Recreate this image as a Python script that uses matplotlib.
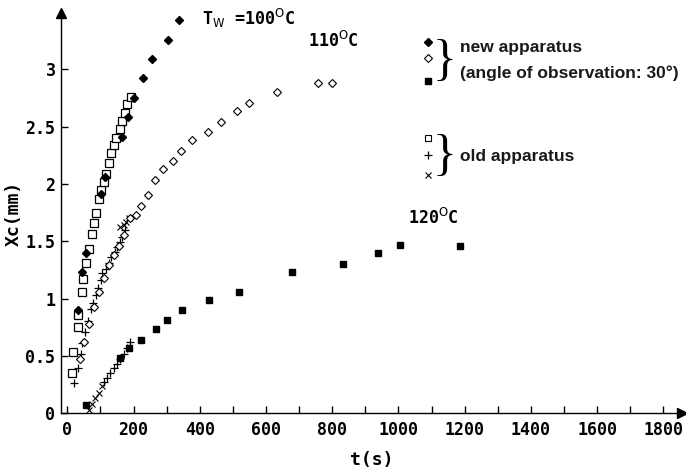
import numpy as np
import matplotlib
matplotlib.use("Agg")
import matplotlib.pyplot as plt

# ---- data ----
# new apparatus, T_W = 100 C (filled diamonds)
t_new100 = [33, 45, 55, 101, 113, 164, 184, 202, 228, 256, 304, 338]
x_new100 = [0.90, 1.23, 1.40, 1.91, 2.06, 2.41, 2.58, 2.75, 2.92, 3.09, 3.26, 3.43]

# new apparatus, 110 C (open diamonds)
t_new110 = [38, 50, 65, 80, 95, 110, 125, 140, 155, 170, 188, 208, 223, 243, 266,
            290, 318, 344, 376, 424, 463, 513, 550, 634, 758, 800]
x_new110 = [0.47, 0.62, 0.78, 0.93, 1.06, 1.18, 1.29, 1.38, 1.46, 1.55, 1.70, 1.73,
            1.81, 1.90, 2.03, 2.13, 2.20, 2.29, 2.38, 2.45, 2.54, 2.64, 2.71, 2.80,
            2.88, 2.88]

# new apparatus, 120 C (filled squares)
t_new120 = [56, 158, 185, 223, 268, 300, 345, 428, 518, 678, 832, 937, 1005, 1185]
x_new120 = [0.07, 0.48, 0.57, 0.64, 0.73, 0.81, 0.90, 0.99, 1.06, 1.23, 1.30, 1.40,
            1.47, 1.46]

# old apparatus, 100 C (open squares)
t_old_sq = [13, 18, 31, 33, 43, 48, 56, 66, 73, 81, 88, 95, 103, 110, 116, 126,
            131, 142, 148, 158, 166, 174, 181, 191]
x_old_sq = [0.35, 0.53, 0.75, 0.86, 1.06, 1.17, 1.31, 1.43, 1.56, 1.66, 1.75, 1.87,
            1.95, 2.02, 2.09, 2.18, 2.27, 2.34, 2.40, 2.48, 2.55, 2.62, 2.70, 2.76]

# old apparatus (+)
t_old_plus = [21, 33, 40, 45, 53, 63, 70, 78, 88, 93, 101, 106, 116, 126, 133, 143,
              150, 158, 166, 173, 110, 120, 130, 140, 150, 160, 170, 180, 188]
x_old_plus = [0.26, 0.39, 0.52, 0.61, 0.71, 0.80, 0.91, 0.96, 1.03, 1.09, 1.16, 1.22,
              1.26, 1.31, 1.36, 1.41, 1.45, 1.49, 1.54, 1.60, 0.27, 0.31, 0.35, 0.39,
              0.43, 0.47, 0.52, 0.57, 0.62]

# old apparatus (x)
t_old_x = [65, 75, 85, 95, 105, 160, 170, 178, 185]
x_old_x = [0.03, 0.08, 0.13, 0.18, 0.24, 1.62, 1.64, 1.67, 1.70]

xticks = list(range(0, 1801, 200))
yticks = [0, 0.5, 1, 1.5, 2, 2.5, 3]
ytick_labels = ["0", "0.5", "1", "1.5", "2", "2.5", "3"]

# ---- figure ----
fig = plt.figure(figsize=(6.86, 4.70), dpi=100)
ax = fig.add_axes([0.089, 0.121, 0.905, 0.851])
ax.set_xlim(-19, 1856)
ax.set_ylim(0, 3.49)

mono = {"family": "DejaVu Sans Mono", "weight": "bold"}

ax.plot(t_old_sq, x_old_sq, ls="none", marker="s", ms=5.5, mfc="white", mec="black", mew=0.9)
ax.plot(t_old_plus, x_old_plus, ls="none", marker="+", ms=6, mec="black", mew=0.9)
ax.plot(t_old_x, x_old_x, ls="none", marker="x", ms=4, mec="black", mew=0.8)
ax.plot(t_new110, x_new110, ls="none", marker="D", ms=3.8, mfc="white", mec="black", mew=0.8)
ax.plot(t_new100, x_new100, ls="none", marker="D", ms=4.0, mfc="black", mec="black")
ax.plot(t_new120, x_new120, ls="none", marker="s", ms=5, mfc="black", mec="black")

# spines with arrows
for s in ["top", "right"]:
    ax.spines[s].set_visible(False)
ax.spines["left"].set_linewidth(1.0)
ax.spines["bottom"].set_linewidth(1.0)
ax.plot(1, 0, ">k", ms=7, transform=ax.transAxes, clip_on=False)
ax.plot(0, 1, "^k", ms=7, transform=ax.transAxes, clip_on=False)

ax.set_xticks(xticks)
ax.set_xticks(range(100, 1801, 200), minor=True)
ax.set_yticks(yticks)
ax.set_yticklabels(ytick_labels)
ax.tick_params(axis="both", direction="in", length=5, width=1, labelsize=12)
ax.tick_params(axis="x", which="minor", direction="in", length=5, width=1)
ax.tick_params(axis="x", pad=6)
ax.tick_params(axis="y", pad=4)
for lab in ax.get_xticklabels() + ax.get_yticklabels():
    lab.set_fontfamily("DejaVu Sans Mono")
    lab.set_fontweight("bold")

ax.set_xlabel("t(s)", fontsize=13, labelpad=8, **mono)
ax.set_ylabel("Xc(mm)", fontsize=13, labelpad=2, **mono)

# curve labels
ax.text(407, 3.44, r"T$_{\rm W}$ =100$^{\rm O}$C", fontsize=12, va="center", **mono)
ax.text(728, 3.25, r"110$^{\rm O}$C", fontsize=12, va="center", **mono)
ax.text(1030, 1.70, r"120$^{\rm O}$C", fontsize=12, va="center", **mono)

# legend block
lx = 1088
ax.plot([lx], [3.24], ls="none", marker="D", ms=4.0, mfc="black", mec="black")
ax.plot([lx], [3.10], ls="none", marker="D", ms=3.8, mfc="white", mec="black", mew=0.8)
ax.plot([lx], [2.90], ls="none", marker="s", ms=5, mfc="black", mec="black")
ax.plot([lx], [2.40], ls="none", marker="s", ms=5, mfc="white", mec="black", mew=0.8)
ax.plot([lx], [2.25], ls="none", marker="+", ms=6, mec="black", mew=0.9)
ax.plot([lx], [2.08], ls="none", marker="x", ms=4, mec="black", mew=0.8)
ax.text(lx + 16, 3.07, "}", fontsize=36, va="center", family="Liberation Serif")
ax.text(lx + 16, 2.24, "}", fontsize=36, va="center", family="Liberation Serif")

sans = {"family": "Liberation Sans", "weight": "bold", "color": "#1a1a1a"}
ax.text(lx + 98, 3.19, "new apparatus", fontsize=12.5, va="center", **sans)
ax.text(lx + 98, 2.97, "(angle of observation: 30°)", fontsize=12.5, va="center", **sans)
ax.text(lx + 98, 2.24, "old apparatus", fontsize=12.5, va="center", **sans)

fig.savefig("out.png", dpi=100)
